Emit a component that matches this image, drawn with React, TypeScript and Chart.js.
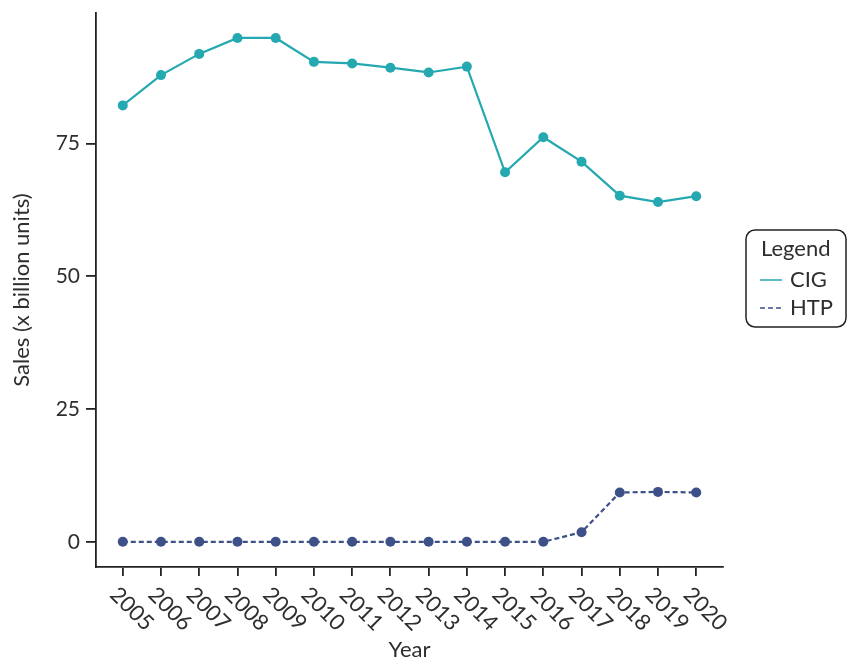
import React, { useEffect, useRef } from "react";
import { Chart, registerables } from "chart.js";

Chart.register(...registerables);

// Annual sales, billions of units
const years = [2005, 2006, 2007, 2008, 2009, 2010, 2011, 2012, 2013, 2014, 2015, 2016, 2017, 2018, 2019, 2020];
const cigSales = [82.2, 87.9, 91.9, 94.9, 94.9, 90.4, 90.1, 89.3, 88.4, 89.5, 69.6, 76.2, 71.6, 65.2, 64.0, 65.1];
const htpSales = [0, 0, 0, 0, 0, 0, 0, 0, 0, 0, 0, 0, 1.8, 9.3, 9.4, 9.3];
const yTickValues = [0, 25, 50, 75];
const seriesLabels = ["CIG", "HTP"];
const legendTitle = "Legend";
const xTitle = "Year";
const yTitle = "Sales (x billion units)";

const FONT = "Lato";
const TEXT = "#2E2E2E";
const AXIS = "#222222";
const CIG_COLOR = "#24A9B0";
const HTP_COLOR = "#3D5088";

// Year labels slanted downwards to the right, below each tick
const slantedYearLabels = {
  id: "slantedYearLabels",
  afterDraw(chart: any) {
    const xs = chart.scales.x;
    const ctx = chart.ctx;
    ctx.save();
    ctx.font = `22px ${FONT}`;
    ctx.fillStyle = TEXT;
    ctx.textAlign = "left";
    ctx.textBaseline = "middle";
    years.forEach((yr) => {
      const px = xs.getPixelForValue(yr);
      ctx.save();
      ctx.translate(px - 9, xs.top + 24);
      ctx.rotate(Math.PI / 4);
      ctx.fillText(String(yr), 0, 0);
      ctx.restore();
    });
    ctx.restore();
  },
};

// Boxed legend with a title, keyed by each dataset's line style
const boxedLegend = {
  id: "boxedLegend",
  afterDraw(chart: any) {
    const ctx = chart.ctx;
    const left = 746;
    const top = 230;
    const w = 100;
    const h = 97;
    ctx.save();
    ctx.strokeStyle = AXIS;
    ctx.lineWidth = 1.5;
    ctx.beginPath();
    ctx.roundRect(left, top, w, h, 9);
    ctx.stroke();

    ctx.font = `22px ${FONT}`;
    ctx.fillStyle = TEXT;
    ctx.textAlign = "left";
    ctx.textBaseline = "middle";
    ctx.fillText(legendTitle, left + 15, top + 19);

    chart.data.datasets.forEach((ds: any, i: number) => {
      const cy = top + 50 + i * 28;
      ctx.strokeStyle = ds.borderColor;
      ctx.lineWidth = 1.5;
      ctx.setLineDash(ds.borderDash || []);
      ctx.beginPath();
      ctx.moveTo(left + 14, cy);
      ctx.lineTo(left + 36, cy);
      ctx.stroke();
      ctx.setLineDash([]);
      ctx.fillStyle = TEXT;
      ctx.fillText(ds.label, left + 44, cy);
    });
    ctx.restore();
  },
};

export default function App() {
  const canvasRef = useRef<HTMLCanvasElement | null>(null);

  useEffect(() => {
    document.body.style.margin = "0";
    const canvas = canvasRef.current;
    if (!canvas) return;

    const chart = new Chart(canvas, {
      type: "line",
      data: {
        datasets: [
          {
            label: seriesLabels[0],
            data: years.map((x, i) => ({ x, y: cigSales[i] })),
            borderColor: CIG_COLOR,
            backgroundColor: CIG_COLOR,
            borderWidth: 2.2,
            pointRadius: 5,
            pointBorderWidth: 0,
            pointBackgroundColor: CIG_COLOR,
            tension: 0,
          },
          {
            label: seriesLabels[1],
            data: years.map((x, i) => ({ x, y: htpSales[i] })),
            borderColor: HTP_COLOR,
            backgroundColor: HTP_COLOR,
            borderWidth: 2.2,
            borderDash: [5, 3],
            pointRadius: 5,
            pointBorderWidth: 0,
            pointBackgroundColor: HTP_COLOR,
            tension: 0,
          },
        ],
      },
      options: {
        animation: false,
        responsive: false,
        maintainAspectRatio: false,
        layout: { padding: { top: 13, right: 125, left: 0, bottom: 0 } },
        plugins: {
          legend: { display: false },
          tooltip: { enabled: false },
        },
        scales: {
          x: {
            type: "linear",
            min: 2004.3,
            max: 2020.7,
            afterBuildTicks: (scale: any) => {
              scale.ticks = years.map((v) => ({ value: v }));
            },
            afterFit: (scale: any) => {
              scale.height = 94;
              scale.paddingLeft = 0;
              scale.paddingRight = 0;
            },
            grid: {
              drawOnChartArea: false,
              drawTicks: true,
              tickLength: 9,
              color: AXIS,
              lineWidth: 1.8,
            },
            border: { display: true, color: AXIS, width: 1.8 },
            ticks: { display: false },
            title: {
              display: true,
              text: xTitle,
              color: TEXT,
              font: { family: FONT, size: 22, lineHeight: 1 },
              padding: { top: 0, bottom: 0 },
            },
          },
          y: {
            type: "linear",
            min: -4.745,
            max: 99.6,
            afterBuildTicks: (scale: any) => {
              scale.ticks = yTickValues.map((v) => ({ value: v }));
            },
            afterFit: (scale: any) => {
              scale.width = 96;
              scale.paddingTop = 0;
              scale.paddingBottom = 0;
            },
            grid: {
              drawOnChartArea: false,
              drawTicks: true,
              tickLength: 10,
              color: AXIS,
              lineWidth: 1.8,
            },
            border: { display: true, color: AXIS, width: 1.8 },
            ticks: {
              color: TEXT,
              font: { family: FONT, size: 21 },
              padding: 6,
            },
            title: {
              display: true,
              text: yTitle,
              color: TEXT,
              font: { family: FONT, size: 22, lineHeight: 1 },
              padding: { top: 11, bottom: 0 },
            },
          },
        },
      },
      plugins: [slantedYearLabels, boxedLegend],
    } as any);

    return () => chart.destroy();
  }, []);

  return (
    <div style={{ position: "absolute", left: 0, top: 0, width: 848, height: 661 }}>
      <canvas ref={canvasRef} width={848} height={661} />
    </div>
  );
}
